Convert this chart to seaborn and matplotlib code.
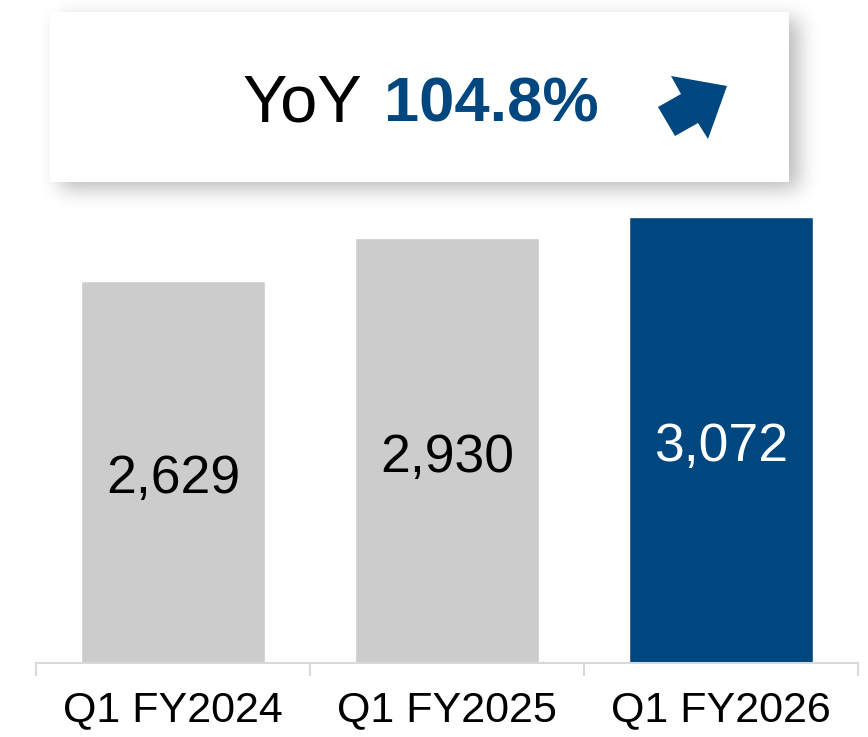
import matplotlib
matplotlib.use("Agg")
import matplotlib.pyplot as plt
from matplotlib.patches import Rectangle, Polygon
import seaborn as sns
import numpy as np

categories = ["Q1 FY2024", "Q1 FY2025", "Q1 FY2026"]
values = [2629, 2930, 3072]
bar_labels = ["2,629", "2,930", "3,072"]
yoy_label = "YoY"
yoy_value = "104.8%"

GRAY = "#CCCCCC"
BLUE = "#00467F"
colors = [GRAY, GRAY, BLUE]

sns.set_theme(style="white")
plt.rcParams["font.family"] = ["Liberation Sans", "DejaVu Sans"]

W, H = 868, 737
fig = plt.figure(figsize=(W / 100, H / 100), dpi=100)

def fx(px):
    return px / W

def fy(py):
    return 1 - py / H

ax = fig.add_axes([fx(36), fy(662.5), (858 - 36) / W, (662.5 - 200) / H])
sns.barplot(x=categories, y=values, hue=categories, palette=colors,
            width=0.668, saturation=1, legend=False, ax=ax)
ax.set_ylim(0, 3189)
ax.set_xlim(-0.5, 2.5)
ax.set_yticks([])
ax.set_ylabel("")
ax.set_xlabel("")
for s in ["top", "right", "left"]:
    ax.spines[s].set_visible(False)
ax.spines["bottom"].set_color("#D9D9D9")
ax.spines["bottom"].set_linewidth(1.5)

ax.set_xticks([-0.5, 0.5, 1.5, 2.5], labels=["", "", "", ""])
ax.tick_params(axis="x", which="major", length=9, width=1.5, color="#D9D9D9",
               direction="out", bottom=True)
ax.set_xticks([0, 1, 2], labels=categories, minor=True)
ax.tick_params(axis="x", which="minor", length=0, pad=20, labelsize=31,
               labelcolor="black")

for i, v in enumerate(values):
    ax.annotate(bar_labels[i], xy=(i, v / 2), xytext=(0, -15.5),
                textcoords="offset points", ha="center", va="baseline",
                fontsize=38.5,
                color="white" if colors[i] == BLUE else "black")

# Callout box with soft blurred shadow
x0, y0, x1, y1 = 50, 12, 789, 182
mask = np.zeros((H, W))
ox, oy = 10, 7
mask[y0 + oy:y1 + oy, x0 + ox:x1 + ox] = 1.0
sig = 10.0
kr = np.arange(-35, 36)
kern = np.exp(-kr ** 2 / (2 * sig ** 2))
kern /= kern.sum()
mask = np.apply_along_axis(lambda r: np.convolve(r, kern, mode="same"), 1, mask)
mask = np.apply_along_axis(lambda c: np.convolve(c, kern, mode="same"), 0, mask)
shadow = np.zeros((H, W, 4))
shadow[..., 3] = mask * 0.27
fig.figimage(shadow, xo=0, yo=0, origin="upper", zorder=1)

fig.patches.append(Rectangle((fx(x0), fy(y1)), (x1 - x0) / W, (y1 - y0) / H,
                             transform=fig.transFigure, facecolor="white",
                             edgecolor="none", zorder=2))

fig.text(fx(243), fy(122), yoy_label, fontsize=48, color="black",
         va="baseline", ha="left", zorder=3)
fig.text(fx(384), fy(122), yoy_value, fontsize=45.5, color=BLUE,
         fontweight="bold", va="baseline", ha="left", zorder=3)

arrow_px = [(671, 76), (727, 86), (708, 139), (698, 123), (675, 136),
            (658, 107), (681, 94)]
fig.patches.append(Polygon([(fx(a), fy(b)) for a, b in arrow_px], closed=True,
                           transform=fig.transFigure, facecolor=BLUE,
                           edgecolor="none", zorder=3))

fig.savefig("out.png", dpi=100)
